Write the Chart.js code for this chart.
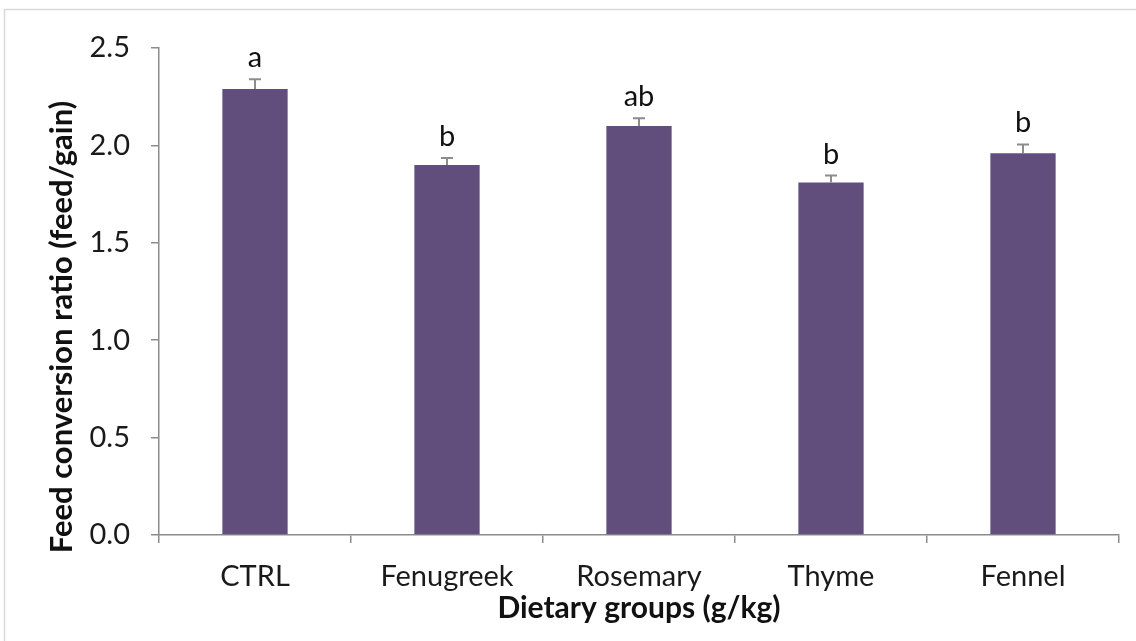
<!DOCTYPE html>
<html>
<head>
<meta charset="utf-8">
<script src="https://cdn.jsdelivr.net/npm/chart.js@4.4.1/dist/chart.umd.min.js"></script>
<style>
html,body{margin:0;padding:0;background:#fff;}
#wrap{position:relative;width:1136px;height:641px;}
</style>
</head>
<body>
<div id="wrap"><canvas id="c" width="1136" height="641"></canvas></div>
<script>
const categories = ['CTRL', 'Fenugreek', 'Rosemary', 'Thyme', 'Fennel'];
const fcrValues = [2.29, 1.90, 2.10, 1.81, 1.96];
const fcrErrors = [0.05, 0.035, 0.04, 0.035, 0.045];
const sigLetters = ['a', 'b', 'ab', 'b', 'b'];
const yTicks = [0, 0.5, 1.0, 1.5, 2.0, 2.5];
const yTitle = 'Feed conversion ratio (feed/gain)';
const xTitle = 'Dietary groups (g/kg)';

const FONT = 'Lato';
const TICK_SIZE = 29;
const TITLE_SIZE = 30;

const framePlugin = {
  id: 'frame',
  beforeDraw(chart) {
    const ctx = chart.ctx;
    ctx.save();
    ctx.fillStyle = '#fff';
    ctx.fillRect(0, 0, chart.width, chart.height);
    ctx.strokeStyle = '#d9d9d9';
    ctx.lineWidth = 1.5;
    ctx.strokeRect(4.5, 9.5, chart.width + 20, chart.height + 20);
    ctx.restore();
  },
  afterDraw(chart) {
    const ctx = chart.ctx;
    ctx.save();
    ctx.translate(62, 327);
    ctx.rotate(-Math.PI / 2);
    ctx.fillStyle = '#111';
    ctx.font = 'bold 31px ' + FONT;
    ctx.textAlign = 'center';
    ctx.textBaseline = 'middle';
    ctx.fillText(yTitle, 0, 0);
    ctx.restore();
  }
};

const errorPlugin = {
  id: 'errbars',
  afterDatasetsDraw(chart) {
    const ctx = chart.ctx;
    const meta = chart.getDatasetMeta(0);
    const y = chart.scales.y;
    ctx.save();
    meta.data.forEach((bar, i) => {
      const top = y.getPixelForValue(fcrValues[i] + fcrErrors[i]);
      const base = y.getPixelForValue(fcrValues[i]);
      ctx.strokeStyle = '#8c8c8c';
      ctx.lineWidth = 2;
      ctx.beginPath();
      ctx.moveTo(bar.x, base);
      ctx.lineTo(bar.x, top);
      ctx.moveTo(bar.x - 6, top);
      ctx.lineTo(bar.x + 6, top);
      ctx.stroke();
      ctx.fillStyle = '#111';
      ctx.font = TICK_SIZE + 'px ' + FONT;
      ctx.textAlign = 'center';
      ctx.textBaseline = 'alphabetic';
      ctx.fillText(sigLetters[i], bar.x, top - 12);
    });
    ctx.restore();
  }
};

new Chart(document.getElementById('c'), {
  type: 'bar',
  data: {
    labels: categories,
    datasets: [{
      data: fcrValues,
      backgroundColor: '#624e7c',
      borderWidth: 0,
      categoryPercentage: 1,
      barPercentage: 0.34
    }]
  },
  options: {
    responsive: false,
    animation: false,
    devicePixelRatio: 1,
    layout: { padding: { top: 48, right: 17, left: 0, bottom: 0 } },
    plugins: { legend: { display: false }, tooltip: { enabled: false } },
    scales: {
      x: {
        grid: { display: true, drawOnChartArea: false, drawTicks: true, tickLength: 8, color: '#8c8c8c', lineWidth: 1.5, offset: true },
        border: { display: true, color: '#8c8c8c', width: 1.5 },
        ticks: { color: '#1a1a1a', font: { family: FONT, size: TICK_SIZE }, padding: 16, maxRotation: 0, autoSkip: false },
        title: { display: true, text: xTitle, color: '#111', font: { family: FONT, size: TITLE_SIZE, weight: 'bold' }, padding: { top: 0, bottom: 15 } },
        afterFit(scale) { scale.height = 641 - 535; }
      },
      y: {
        min: 0, max: 2.5,
        afterBuildTicks(scale) { scale.ticks = yTicks.map(v => ({ value: v })); },
        grid: { display: true, drawOnChartArea: false, drawTicks: true, tickLength: 8, color: '#8c8c8c', lineWidth: 1.5 },
        border: { display: true, color: '#8c8c8c', width: 1.5 },
        ticks: { color: '#1a1a1a', font: { family: FONT, size: TICK_SIZE }, padding: 21, callback: v => Number(v).toFixed(1) },
        title: { display: false },
        afterFit(scale) { scale.width = 159; }
      }
    }
  },
  plugins: [framePlugin, errorPlugin]
});
</script>
</body>
</html>
